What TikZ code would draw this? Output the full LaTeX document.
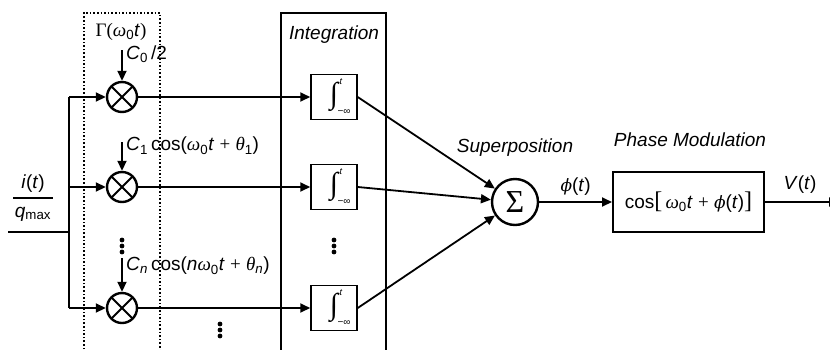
\documentclass[tikz,border=0pt]{standalone}
\usepackage{fontspec}
\setmainfont{Liberation Sans}
\newfontfamily\grk{Liberation Serif}
\newfontfamily\dvs{DejaVu Serif}
\usetikzlibrary{arrows.meta}
\newcommand{\vt}[1]{\textit{#1}}
\newcommand{\gi}[1]{{\grk\itshape #1}}
\newcommand{\gu}[1]{{\grk #1}}
\newcommand{\sub}[1]{\textsubscript{#1}}
\newcommand{\ph}{{\dvs\itshape\fontsize{17}{20}\selectfont ϕ}}
\begin{document}
\begin{tikzpicture}[x=1pt,y=-1pt,
  font=\fontsize{19}{22}\selectfont,
  wire/.style={line width=1.8pt},
  arr/.style={wire,-{Triangle[length=10pt,width=9pt]}},
  mult/.style={circle,draw,line width=2.4pt,minimum size=30pt,inner sep=0pt,
    path picture={\draw[line width=2pt]
      (path picture bounding box.north west) -- (path picture bounding box.south east)
      (path picture bounding box.north east) -- (path picture bounding box.south west);}},
  integ/.style={draw,line width=1.5pt,minimum width=46pt,minimum height=45pt,inner sep=0pt,
    font=\fontsize{30}{30}\selectfont\grk\itshape},
  limit/.style={inner sep=0pt,font=\fontsize{9}{9}\selectfont},
  lbl/.style={inner sep=1pt},
  ttl/.style={inner sep=0pt,font=\fontsize{19}{22}\selectfont\itshape},
  vdots/.style={inner sep=0pt}
]
\useasboundingbox (0,0) rectangle (830,349);

% group boxes
\draw[line width=1.5pt,dash pattern=on 1.6pt off 2pt] (84,360) -- (84,13) -- (160,13) -- (160,360);
\draw[line width=2pt] (281,360) -- (281,13) -- (386,13) -- (386,360);
\node[ttl] (tint) at (334,35) {Integration};

% multipliers
\node[mult] (m1) at (122,97) {};
\node[mult] (m2) at (122,187) {};
\node[mult] (m3) at (122,308) {};

% integrators with their limits
\foreach \nm/\y in {i1/97, i2/187, i3/308}{
  \node[integ] (\nm) at (334,\y) {∫\hspace{16pt}};
  \node[limit] (\nm t) at ([shift={(7,-15)}]\nm.center) {\textit{t}};
  \node[limit,font=\fontsize{10}{10}\selectfont] (\nm b) at ([shift={(10,15)}]\nm.center) {−∞};
}

% summation and phase modulation
\node[circle,draw,line width=2.4pt,minimum size=46pt,inner sep=0pt,font=\fontsize{32}{32}\selectfont\grk] (sum) at (515,202) {Σ};
\node[draw,line width=2pt,minimum width=151pt,minimum height=60pt,inner sep=0pt] (pm) at (688.5,202)
  {cos{\fontsize{24}{24}\selectfont\grk[}\,\gi{ω}\sub{0}\vt{t} \gu{+} \ph(\vt{t}){\fontsize{24}{24}\selectfont\grk]}};
\node[ttl] (tsup) at (515,148) {Superposition};
\node[ttl] (tpm) at (690,140) {Phase Modulation};

% input and distribution bus
\coordinate (in) at (8,232);
\coordinate (bus) at (69,232);
\coordinate (bt) at (69,97);
\coordinate (bb) at (69,308);
\coordinate (bm) at (69,187);
\draw[wire] (in) -- (bus);
\draw[wire] (bt) -- (bb);
\draw[arr] (bt) -- (m1);
\draw[arr] (bm) -- (m2);
\draw[arr] (bb) -- (m3);

\node[lbl] (num) at (33,184) {\vt{i}(\vt{t})};
\node[lbl] (den) at (33,214) {\vt{q}\sub{max}};
\draw[line width=1.5pt] (13,198) -- (53,198);

% carrier terms
\node[lbl] (gam) at (121,32) {\gu{Γ(}\gi{ω}\sub{0}\vt{t}\gu{)}};
\coordinate (c0) at (122,50);
\coordinate (c1) at (122,142);
\coordinate (cn) at (122,258);
\draw[arr] (c0) -- (m1);
\draw[arr] (c1) -- (m2);
\draw[arr] (cn) -- (m3);
\node[lbl,anchor=west] (l0) at (125,54) {\vt{C}\sub{0}\,/2};
\node[lbl,anchor=west] (l1) at (125,146) {\vt{C}\sub{1}\,cos(\gi{ω}\sub{0}\vt{t} \gu{+} \gi{θ}\sub{1})};
\node[lbl,anchor=west] (ln) at (125,266) {\vt{C}\sub{\vt{n}}\,cos(\vt{n}\gi{ω}\sub{0}\vt{t} \gu{+} \gi{θ}\sub{\vt{n}})};

% ellipses
\foreach \nm/\x/\y in {d1/122/246, d2/334/246, d3/220/330}{
  \node[vdots] (\nm) at (\x,\y) {};
  \foreach \k in {-1,0,1} \fill (\x,\y+\k*6) circle (2.4pt);
}

% channel wires
\draw[arr] (m1) -- (i1);
\draw[arr] (m2) -- (i2);
\draw[arr] (m3) -- (i3);
\draw[arr] (i1.east) -- (sum);
\draw[arr] (i2.east) -- (sum);
\draw[arr] (i3.east) -- (sum);

% output path
\draw[arr] (sum) -- (pm) node[midway,above=2pt] (lphi) {\ph(\vt{t})};
\coordinate (out) at (839,202);
\draw[arr] (pm) -- (out);
\node[lbl] (lv) at (800,185) {\vt{V}(\vt{t})};
\end{tikzpicture}
\end{document}
